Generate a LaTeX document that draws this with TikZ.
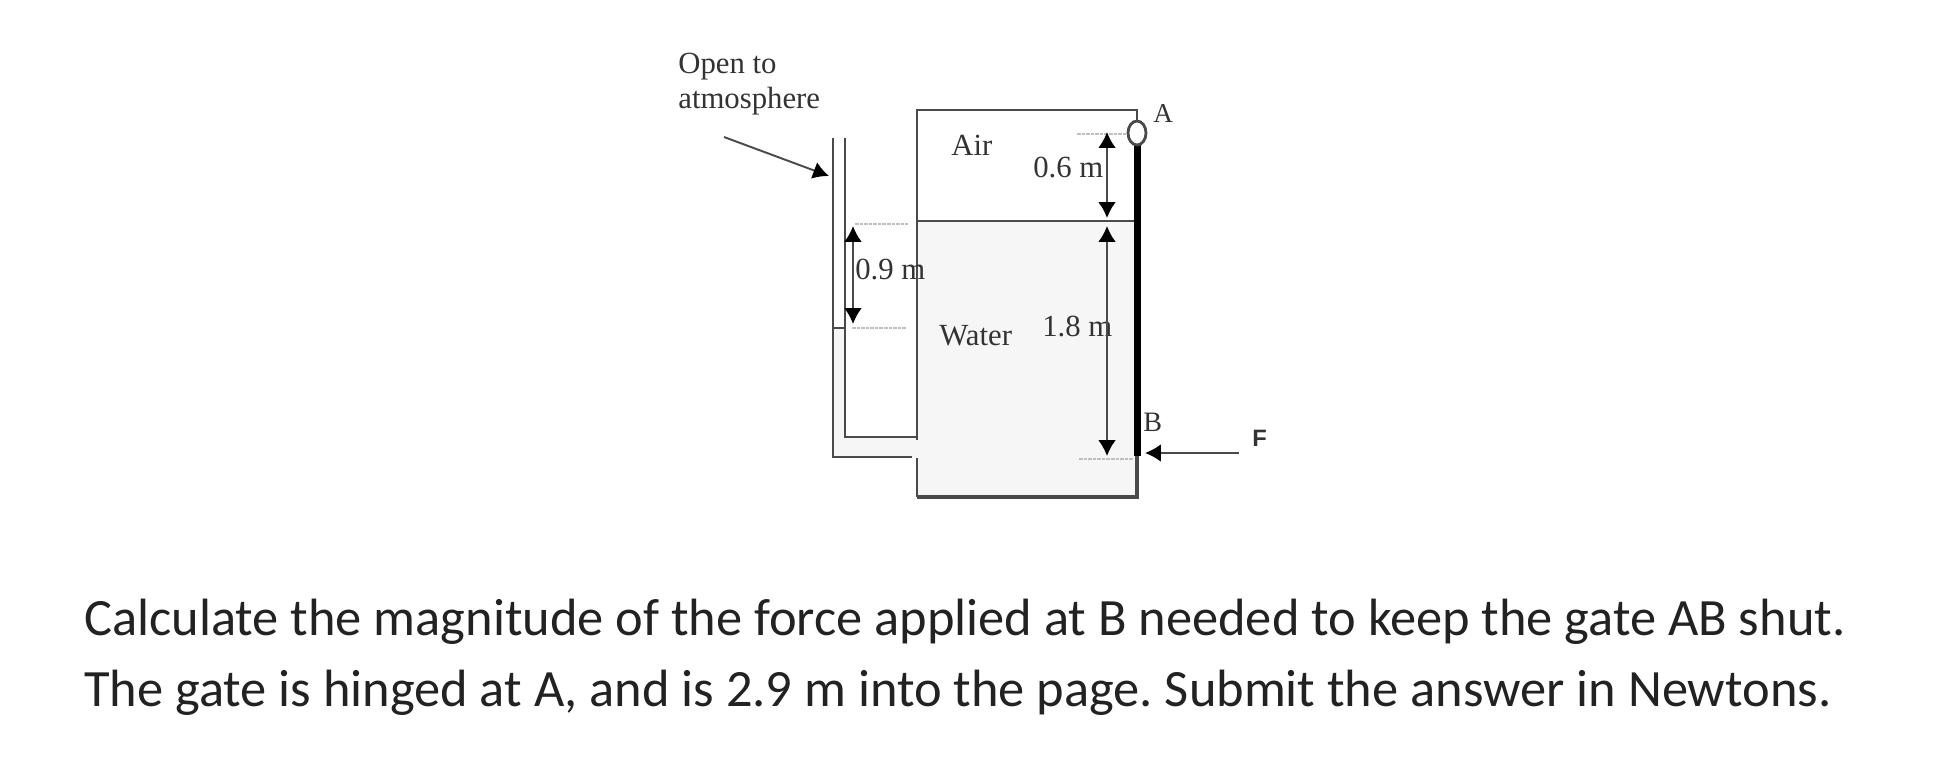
\documentclass[tikz,border=0pt]{standalone}
\usepackage{fontspec}
\setmainfont{Liberation Serif}
\newfontfamily\captionfont{Carlito}
\newfontfamily\forcefont{Liberation Sans}
\usepackage{tikz}
\usetikzlibrary{arrows.meta,positioning}
\definecolor{wallgray}{HTML}{4A4A4A}
\definecolor{watergray}{HTML}{F6F6F6}
\definecolor{textgray}{HTML}{222222}
\tikzset{
wall/.style={line width=1.6pt,color=wallgray},
level/.style={line width=.7pt,color=lightgray,dash pattern=on 2pt off .6pt},
dim/.style={line width=1.1pt,color=wallgray,{Latex[length=9pt,width=10pt,color=black]}-{Latex[length=9pt,width=10pt,color=black]}},
push/.style={line width=1.1pt,color=wallgray,-{Latex[length=9pt,width=10pt,color=black]}},
lbl/.style={anchor=base west,inner sep=0pt,color=black!80,font=\fontsize{17.5}{20}\selectfont},
captext/.style={anchor=base west,inner sep=0pt,color=textgray,font=\captionfont\fontsize{29.85}{34}\selectfont\frenchspacing}
}
\begin{document}
\begin{tikzpicture}[x=.02cm,y=-.02cm]%pixel units of the sheet
\useasboundingbox (0,0) rectangle (1950,774);
%water and the manometer leg
\fill[watergray] (918,221) rectangle (1137,497);
\fill[watergray] (833,328) rectangle (845,457); \fill[watergray] (833,437) rectangle (918,457);
%tank
\draw[wall] (917,440) -- (917,110) -- (1137,110) -- (1137,124);
\draw[wall] (917,458) -- (917,497);
\draw[wall,line width=1.9pt] (917,497) -- (1137,497) -- (1137,456);
\draw[wall] (917,221) -- (1134,221);
%manometer tube
\draw[wall] (833,138) -- (833,457) -- (912,457);
\draw[wall] (845,138) -- (845,437) -- (917,437);
\draw[wall,line width=1pt] (833,328) -- (845,328);
%gate and hinge
\draw[line width=4pt] (1137,145) -- (1137,456);
\draw[wall,fill=white] (1137,133) ellipse (9 and 12);
%levels
\draw[level] (1077,134) -- (1127,134);
\draw[level] (855,224) -- (908,224);
\draw[level] (852,328) -- (906,328);
\draw[level] (1079,459) -- (1133,459);
%labels
\node[lbl] (open) at (678,73) {Open to};
\node[lbl] (atm) at (678,108) {atmosphere};
\node[lbl] (air) at (951,155) {Air};
\node[lbl] (water) at (939,345) {Water};
\node[lbl] (d06) at (1033,177) {0.6 m};
\node[lbl] (d09) at (855,279) {0.9 m};
\node[lbl] (d18) at (1042,336) {1.8 m};
\node[lbl,font=\fontsize{15.5}{18}\selectfont] (A) at (1153,122) {A};
\node[lbl,font=\fontsize{16}{18}\selectfont] (B) at (1143,431) {B};
\node[lbl,font=\forcefont\bfseries\fontsize{13.5}{16}\selectfont] (F) at (1252,446) {F};
%dimension arrows
\coordinate (d06t) at (1107,132); \coordinate (d06b) at (1107,218);
\coordinate (d18t) at (1107,226); \coordinate (d18b) at (1107,456);
\coordinate (d09t) at (853,226); \coordinate (d09b) at (853,324);
\draw[dim] (d06t) -- (d06b);
\draw[dim] (d18t) -- (d18b);
\draw[dim] (d09t) -- (d09b);
%pointers
\coordinate (vent0) at (724,137); \coordinate (vent1) at (829,176);
\coordinate (f0) at (1239,453); \coordinate (f1) at (1145,453);
\draw[push] (vent0) -- (vent1);
\draw[push] (f0) -- (f1);
%question text
\node[captext] (line1) at (84,635) {Calculate the magnitude of the force applied at B needed to keep the gate AB shut.};
\node[captext] (line2) at (84,706) {The gate is hinged at A, and is 2.9 m into the page. Submit the answer in Newtons.};
\end{tikzpicture}
\end{document}
